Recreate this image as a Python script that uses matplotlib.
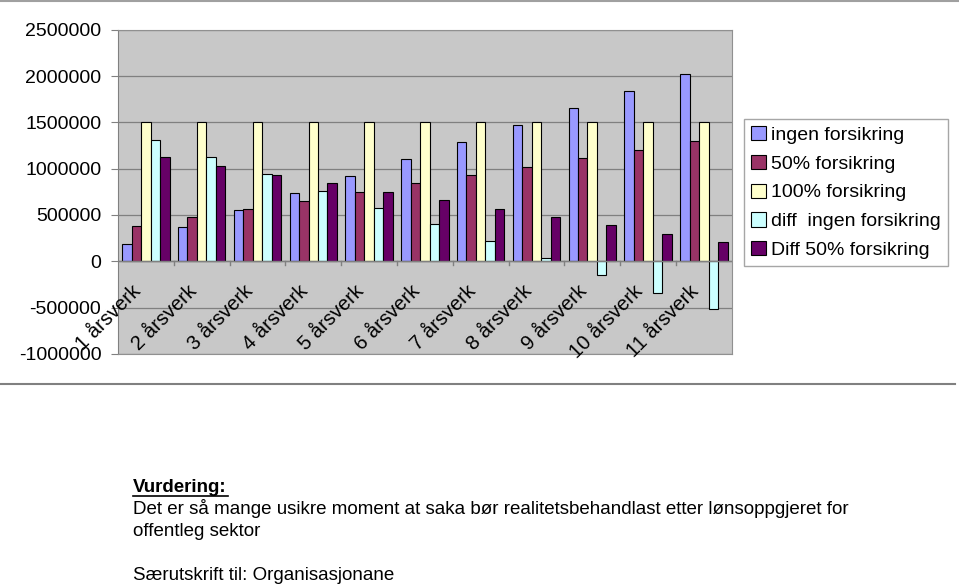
import matplotlib
matplotlib.use('Agg')
import matplotlib.pyplot as plt
from matplotlib.lines import Line2D
import numpy as np

plt.rcParams['font.family'] = ['Liberation Sans', 'DejaVu Sans']

categories = ['1 årsverk', '2 årsverk', '3 årsverk', '4 årsverk', '5 årsverk', '6 årsverk',
              '7 årsverk', '8 årsverk', '9 årsverk', '10 årsverk', '11 årsverk']
series_names = ['ingen forsikring', '50% forsikring', '100% forsikring',
                'diff  ingen forsikring', 'Diff 50% forsikring']

ingen = [188000, 372000, 556000, 736000, 920000, 1100000, 1285000, 1469000, 1653000, 1837000, 2020000]
halv = [379000, 473000, 567000, 654000, 747000, 841000, 931000, 1021000, 1111000, 1206000, 1295000]
full = [1500000] * 11
diff_ingen = [1312000, 1128000, 944000, 764000, 580000, 400000, 215000, 31000, -153000, -337000, -520000]
diff_halv = [1121000, 1027000, 933000, 846000, 753000, 659000, 569000, 479000, 389000, 294000, 205000]

colors = ['#9999FF', '#993366', '#FFFFCC', '#CCFFFF', '#660066']
yticks = [-1000000, -500000, 0, 500000, 1000000, 1500000, 2000000, 2500000]

fig = plt.figure(figsize=(9.59, 5.84), dpi=100)
ax = fig.add_axes([0.123, 0.394, 0.640, 0.555])
ax.set_facecolor('#C8C8C8')

x = np.arange(len(categories))
w = 0.17
all_series = [ingen, halv, full, diff_ingen, diff_halv]
for i, vals in enumerate(all_series):
    ax.bar(x + (i - 2) * w, vals, w, color=colors[i], edgecolor='black',
           linewidth=0.8, label=series_names[i], zorder=3)

ax.set_xlim(-0.5, len(categories) - 0.5)
ax.set_ylim(-1000000, 2500000)
ax.set_yticks(yticks)
ax.set_yticklabels([str(v) for v in yticks], fontsize=14)
ax.yaxis.grid(True, color='#808080', linewidth=0.9, zorder=1)
ax.tick_params(axis='y', length=5, color='#808080', pad=7)
ax.set_xticks([])

for s in ['top', 'right', 'bottom']:
    ax.spines[s].set_color('#909090')
ax.spines['left'].set_color('#808080')

# category axis at zero with ticks between groups
ax.axhline(0, color='#808080', linewidth=1, zorder=4)
for b in np.arange(0.5, len(categories) - 0.5, 1.0):
    ax.plot([b, b], [0, -40000], color='#808080', linewidth=1, zorder=4, clip_on=False)

for xi, lab in zip(x, categories):
    ax.text(xi - 0.26, -220000, lab, rotation=45, ha='right', va='top',
            rotation_mode='anchor', fontsize=14.5, zorder=5)

handles = [plt.Rectangle((0, 0), 1, 1, facecolor=c, edgecolor='black', linewidth=0.8) for c in colors]
leg = fig.legend(handles, series_names, loc='upper left', bbox_to_anchor=(0.776, 0.796),
                 fontsize=14, frameon=True, fancybox=False, edgecolor='#909090',
                 handlelength=0.75, handleheight=0.75, handletextpad=0.3,
                 labelspacing=0.56, borderpad=0.35, borderaxespad=0)
leg.get_frame().set_linewidth(1)

# outer chart border lines
fig.add_artist(Line2D([0, 1], [0.999, 0.999], color='#A0A0A0', linewidth=1.5))
fig.add_artist(Line2D([0, 0.996], [1 - 384 / 584, 1 - 384 / 584], color='#808080', linewidth=1.5))

# text below the chart
fig.text(133 / 959, 1 - 487 / 584, 'Vurdering:', fontsize=13.5, fontweight='bold', va='center')
fig.add_artist(Line2D([133 / 959, 228 / 959], [1 - 496 / 584, 1 - 496 / 584], color='black', linewidth=1.2))
fig.text(133 / 959, 1 - 509 / 584,
         'Det er så mange usikre moment at saka bør realitetsbehandlast etter lønsoppgjeret for',
         fontsize=13.5, va='center')
fig.text(133 / 959, 1 - 531 / 584, 'offentleg sektor', fontsize=13.5, va='center')
fig.text(133 / 959, 1 - 575 / 584, 'Særutskrift til: Organisasjonane', fontsize=13.5, va='center')

fig.savefig('out.png', dpi=100, facecolor='white')
